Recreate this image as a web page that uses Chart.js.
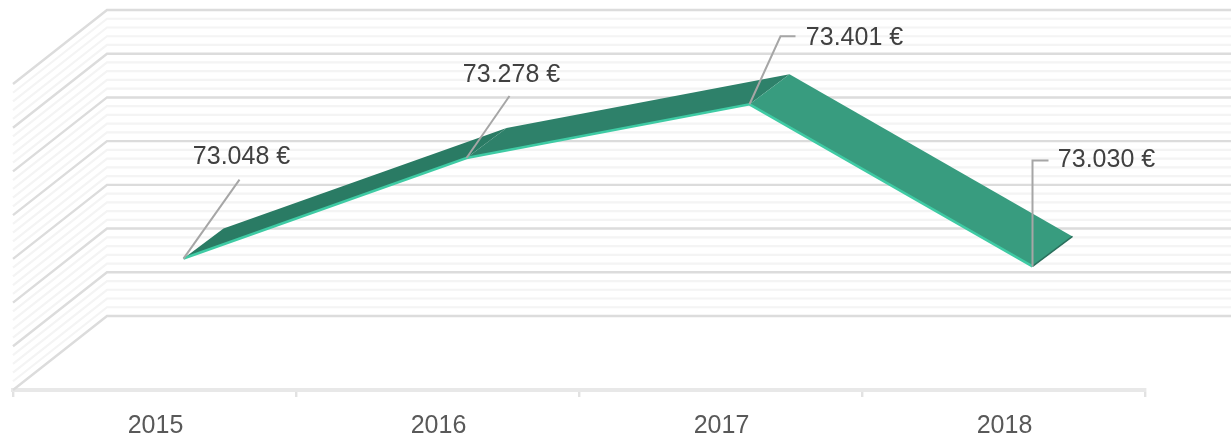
<!DOCTYPE html>
<html><head><meta charset="utf-8">
<style>html,body{margin:0;padding:0;background:#fff}canvas{display:block;filter:blur(.45px)}</style>
<script src="https://cdn.jsdelivr.net/npm/chart.js@4"></script></head>
<body><canvas id="c" width="1231" height="437"></canvas>
<script>
const categories = ['2015','2016','2017','2018'];
const values = [73048,73278,73401,73030];
const axisMin = 72800, axisMax = 73500, minorStep = 20, majorStep = 100;
const topFaceColors = ['#2a7b64','#2e816a','#389c7f'];

// 3-D projection of the depth planes, relative to the front plane (the chart area)
const wallDepth = {dx:94, dy:-74};
const ribbonFront = {dx:29, dy:-23};
const ribbonBack = {dx:69, dy:-53};
// leader line bends, relative to each point's front ribbon corner
const leaders = [
  [[56,-79]],
  [[43,-62]],
  [[31,-68],[46,-68]],
  [[0,-106],[16,-106]]
];
const labelAnchors = [[58,-101],[45,-83],[105,-66],[74,-106]];

const fmt = v => String(v).replace(/\B(?=(\d{3})+$)/g,'.') + ' €';

const depth3d = {
  id:'depth3d',
  beforeDatasetsDraw(chart){
    const {ctx, scales:{x,y}, chartArea:a, width} = chart;
    ctx.save();
    const ticks = y.ticks.map(t=>t.value);
    const drawGroup = (list,color,w)=>{
      ctx.strokeStyle=color; ctx.lineWidth=w;
      list.forEach(v=>{
        const py=y.getPixelForValue(v);
        ctx.beginPath();
        ctx.moveTo(a.left,py);
        ctx.lineTo(a.left+wallDepth.dx,py+wallDepth.dy);
        ctx.lineTo(Math.max(width,a.right+wallDepth.dx),py+wallDepth.dy);
        ctx.stroke();
      });
    };
    drawGroup(ticks.filter(v=>v%majorStep!==0),'#f4f4f4',2.2);
    drawGroup(ticks.filter(v=>v%majorStep===0),'#dcdcdc',2.4);
    // ribbon top faces
    const P = values.map((v,i)=>({x:x.getPixelForValue(i),y:y.getPixelForValue(v)}));
    for(let i=0;i<P.length-1;i++){
      const a0=P[i],b0=P[i+1];
      ctx.fillStyle=topFaceColors[i];
      ctx.beginPath();
      ctx.moveTo(a0.x+ribbonFront.dx,a0.y+ribbonFront.dy);
      ctx.lineTo(b0.x+ribbonFront.dx,b0.y+ribbonFront.dy);
      ctx.lineTo(b0.x+ribbonBack.dx,b0.y+ribbonBack.dy);
      ctx.lineTo(a0.x+ribbonBack.dx,a0.y+ribbonBack.dy);
      ctx.closePath();ctx.fill();
    }
    // dark end edge of the ribbon
    const e=P[P.length-1];
    ctx.strokeStyle='#2a6f5c';ctx.lineWidth=1.5;
    ctx.beginPath();
    ctx.moveTo(e.x+ribbonFront.dx,e.y+ribbonFront.dy);
    ctx.lineTo(e.x+ribbonBack.dx,e.y+ribbonBack.dy);
    ctx.stroke();
    ctx.restore();
  },
  beforeDatasetDraw(chart){
    chart.ctx.save();
    chart.ctx.translate(ribbonFront.dx,ribbonFront.dy);
  },
  afterDatasetDraw(chart){ chart.ctx.restore(); },
  afterDatasetsDraw(chart){
    const {ctx, scales:{x,y}} = chart;
    ctx.save();
    values.forEach((v,i)=>{
      const px=x.getPixelForValue(i)+ribbonFront.dx, py=y.getPixelForValue(v)+ribbonFront.dy;
      ctx.strokeStyle='#a6a6a6';ctx.lineWidth=2;
      ctx.beginPath();ctx.moveTo(px,py);
      leaders[i].forEach(o=>ctx.lineTo(px+o[0],py+o[1]));
      ctx.stroke();
      ctx.fillStyle='#404040';
      ctx.font='25px "Liberation Sans"';
      ctx.textAlign='center';ctx.textBaseline='middle';
      ctx.fillText(fmt(v),px+labelAnchors[i][0],py+labelAnchors[i][1]);
    });
    ctx.restore();
  }
};

new Chart(document.getElementById('c'),{
  type:'line',
  data:{labels:categories,datasets:[{
    data:values,borderColor:'#3fcba4',borderWidth:2.6,pointRadius:0,fill:false,tension:0,clip:false
  }]},
  options:{
    responsive:false,animation:false,
    layout:{padding:{left:13,right:86,top:84,bottom:0}},
    plugins:{legend:{display:false},tooltip:{enabled:false},title:{display:false}},
    scales:{
      x:{
        type:'category',offset:true,
        afterFit(s){s.height=47;},
        border:{display:true,color:'#e8e8e8',width:4},
        grid:{offset:true,drawOnChartArea:false,drawTicks:true,color:'#e2e2e2',lineWidth:2.4,tickLength:7},
        ticks:{color:'#595959',font:{family:'Liberation Sans',size:25},padding:14,maxRotation:0,labelOffset:1}
      },
      y:{
        display:false,min:axisMin,max:axisMax,
        ticks:{stepSize:minorStep,autoSkip:false}
      }
    }
  },
  plugins:[depth3d]
});
</script></body></html>
